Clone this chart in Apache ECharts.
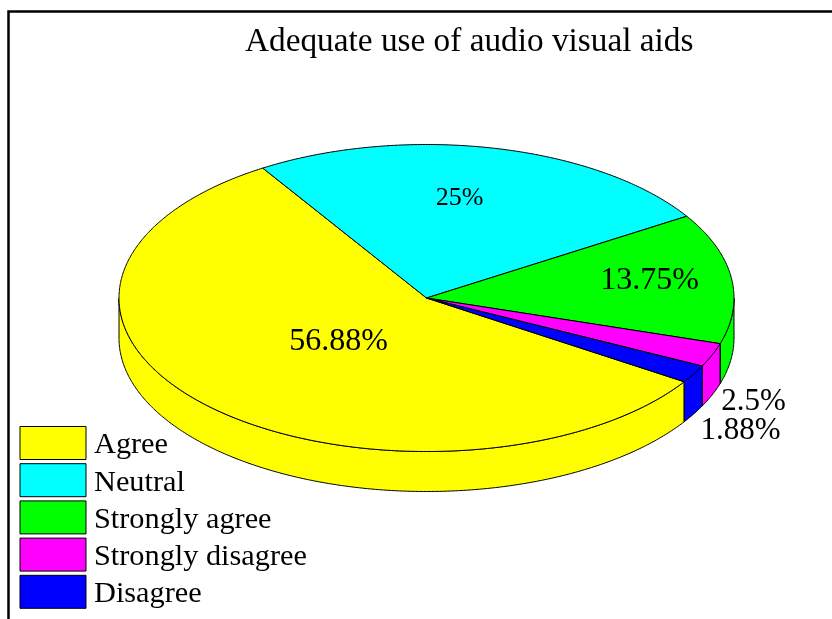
<!DOCTYPE html>
<html>
<head>
<meta charset="utf-8">
<style>html,body{margin:0;padding:0;background:#fff}#c{width:832px;height:619px}</style>
<script src="https://cdn.jsdelivr.net/npm/echarts@6/dist/echarts.min.js"></script>
</head>
<body>
<div id="c"></div>
<script>
var titleText = 'Adequate use of audio visual aids';
var categories = ['Agree', 'Neutral', 'Strongly agree', 'Strongly disagree', 'Disagree'];
var values = [56.88, 25, 13.75, 2.5, 1.88];
var labels = ['56.88%', '25%', '13.75%', '2.5%', '1.88%'];
var colors = ['#ffff00', '#00ffff', '#00ff00', '#ff00ff', '#0000ff'];

// Layout (separate from the data)
var CX = 426.5, CY = 298, RX = 307.5, RY = 153.5, DEPTH = 40, START = -33.07;
var SERIF = '"Liberation Serif","Times New Roman",serif';
var labelOffsets = [[-88, 44], [33, -100], [223, -17], [327, 104], [314, 133]];
var labelSizes = [32, 26, 32, 31, 31];

var total = values.reduce(function (a, b) { return a + b; }, 0);
function rim(tDeg, dy) {
  var t = tDeg * Math.PI / 180;
  return [CX + RX * Math.cos(t), CY - RY * Math.sin(t) + (dy || 0)];
}
function arc(from, to, dy) {
  var pts = [], n = Math.max(2, Math.ceil(Math.abs(from - to) * 2));
  for (var i = 0; i <= n; i++) pts.push(rim(from + (to - from) * i / n, dy));
  return pts;
}
function makeRender(idx) {
  return function (params, api) {
    var before = 0;
    for (var i = 0; i < idx; i++) before += values[i];
    var a0 = START - before / total * 360;
    var a1 = a0 - api.value(0) / total * 360;
    var children = [];
    var style = { fill: colors[idx], stroke: '#000', lineWidth: 1 };
    [[0, -180], [-360, -540]].forEach(function (band) {
      var hi = Math.min(a0, band[0]), lo = Math.max(a1, band[1]);
      if (hi > lo) {
        var side = arc(hi, lo, 0).concat(arc(lo, hi, DEPTH));
        children.push({ type: 'polygon', shape: { points: side }, style: style });
      }
    });
    var top = [[CX, CY]].concat(arc(a0, a1, 0));
    children.push({ type: 'polygon', shape: { points: top }, style: style });
    children.push({
      type: 'text', z2: 10,
      style: {
        x: CX + labelOffsets[idx][0], y: CY + labelOffsets[idx][1],
        text: labels[idx], fill: '#000', align: 'center', verticalAlign: 'middle',
        font: labelSizes[idx] + 'px ' + SERIF
      }
    });
    return { type: 'group', children: children };
  };
}

var chart = echarts.init(document.getElementById('c'), null, { renderer: 'canvas' });
chart.setOption({
  animation: false,
  backgroundColor: '#fff',
  title: {
    text: titleText, left: 245, top: 26, padding: 0,
    textStyle: { fontFamily: SERIF, fontWeight: 'normal', fontSize: 33.3, color: '#000' }
  },
  legend: {
    orient: 'vertical', left: 19.5, top: 425.5, padding: 0,
    itemWidth: 66, itemHeight: 33, itemGap: 2.2, selectedMode: false,
    icon: 'rect', data: categories,
    itemStyle: { borderColor: '#000', borderWidth: 1 },
    formatter: function (name) { return '{t|' + name + '}'; },
    textStyle: {
      rich: { t: { fontFamily: SERIF, fontSize: 30.3, lineHeight: 28, color: '#000', padding: [5, 0, 0, 3] } }
    }
  },
  graphic: [{
    type: 'polyline', silent: true,
    shape: { points: [[8.5, 619], [8.5, 11.5], [832, 11.5]] },
    style: { fill: null, stroke: '#000', lineWidth: 2.5 }
  }],
  series: categories.map(function (name, i) {
    return {
      type: 'custom', name: name, coordinateSystem: 'none', silent: true,
      itemStyle: { color: colors[i], borderColor: '#000', borderWidth: 1 },
      renderItem: makeRender(i), data: [values[i]]
    };
  })
});
</script>
</body>
</html>
